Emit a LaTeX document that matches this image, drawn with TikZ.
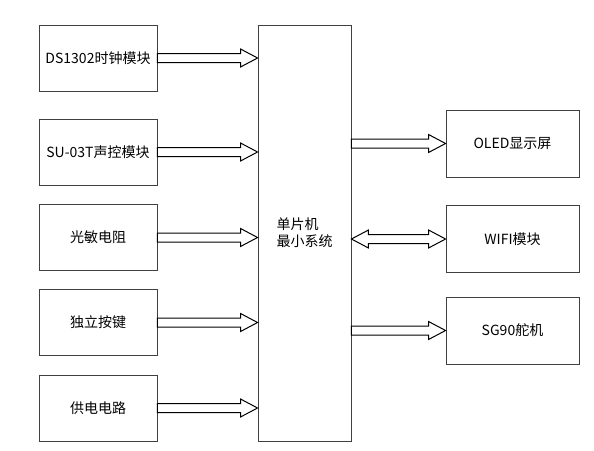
\documentclass[tikz,border=0pt]{standalone}
\usepackage{fontspec}
\setmainfont{Noto Sans CJK SC}
\usepackage{tikz}
\usetikzlibrary{calc}

\tikzset{
  module/.style={draw=black!75, line width=0.9pt, minimum width=118pt, minimum height=66pt,
    inner sep=0pt, font=\fontsize{14}{17}\selectfont},
  output/.style={module, minimum width=133pt, minimum height=67pt},
  % hollow block arrow, shaft 9pt, head 18pt x 17pt
  fat/.style={draw=black, line width=1pt, line join=miter, to path={
    let \p1=(\tikztostart), \p2=(\tikztotarget) in
    (\x1,{\y1+4.5pt}) -- ({\x2-17pt},{\y1+4.5pt}) -- ({\x2-17pt},{\y1+9pt}) -- (\x2,\y1)
    -- ({\x2-17pt},{\y1-9pt}) -- ({\x2-17pt},{\y1-4.5pt}) -- (\x1,{\y1-4.5pt}) -- cycle}},
  fatboth/.style={draw=black, line width=1pt, line join=miter, to path={
    let \p1=(\tikztostart), \p2=(\tikztotarget) in
    (\x1,\y1) -- ({\x1+17pt},{\y1+9pt}) -- ({\x1+17pt},{\y1+4.5pt}) -- ({\x2-17pt},{\y1+4.5pt})
    -- ({\x2-17pt},{\y1+9pt}) -- (\x2,\y1) -- ({\x2-17pt},{\y1-9pt}) -- ({\x2-17pt},{\y1-4.5pt})
    -- ({\x1+17pt},{\y1-4.5pt}) -- ({\x1+17pt},{\y1-9pt}) -- cycle}}
}

\begin{document}
\begin{tikzpicture}[x=1pt,y=-1pt]
\useasboundingbox (0,0) rectangle (594,450);

\node[module] (clock) at (98,58) {DS1302时钟模块};
\node[module] (voice) at (98,152) {SU-03T声控模块};
\node[module] (light) at (98,237.5) {光敏电阻};
\node[module] (key) at (98,322.5) {独立按键};
\node[module] (power) at (98,408) {供电电路};

\node[module, minimum width=93pt, minimum height=416pt, align=left] (mcu) at (304.5,233) {单片机\\最小系统};

\node[output] (oled) at (512.5,143.5) {OLED显示屏};
\node[output] (wifi) at (512.5,239) {WIFI模块};
\node[output] (servo) at (512.5,330.5) {SG90舵机};

\draw[fat] (clock.east) to (mcu.west |- clock.east);
\draw[fat] (voice.east) to (mcu.west |- voice.east);
\draw[fat] (light.east) to (mcu.west |- light.east);
\draw[fat] (key.east) to (mcu.west |- key.east);
\draw[fat] (power.east) to (mcu.west |- power.east);

\draw[fat] (mcu.east |- oled.west) to (oled.west);
\draw[fatboth] (mcu.east |- wifi.west) to (wifi.west);
\draw[fat] (mcu.east |- servo.west) to (servo.west);
\end{tikzpicture}
\end{document}
